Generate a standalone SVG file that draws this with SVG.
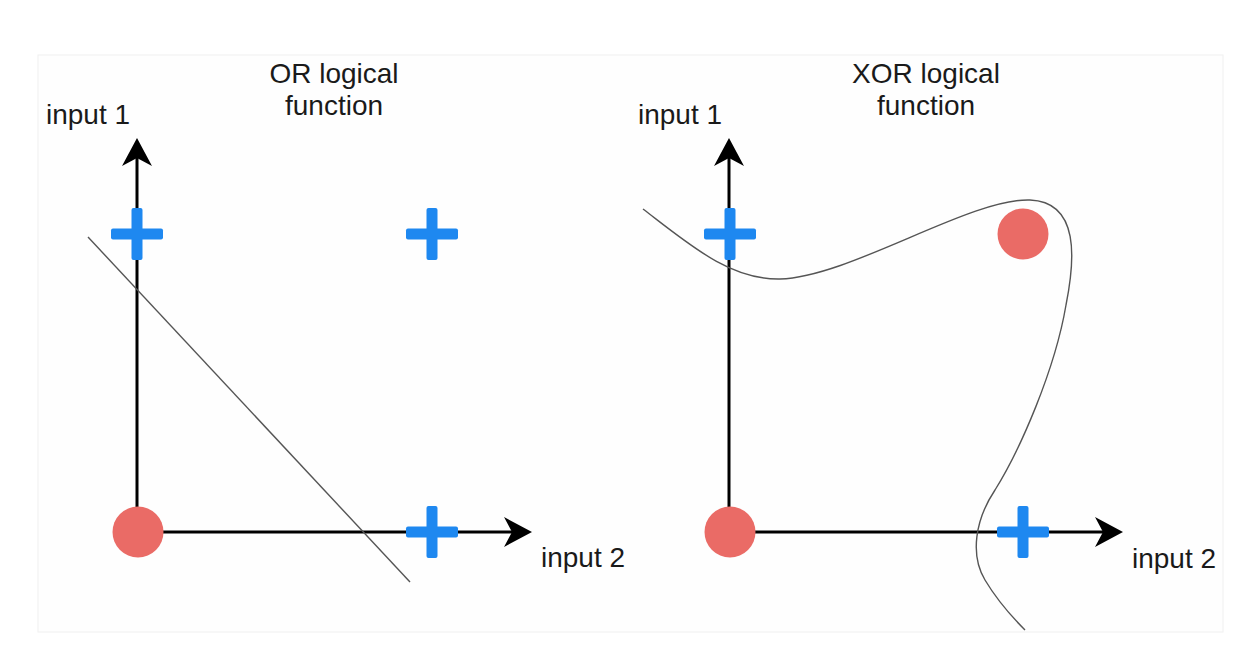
<svg xmlns="http://www.w3.org/2000/svg" width="1256" height="652" viewBox="0 0 1256 652">
  <style>
    .lbl { font-family: "Liberation Sans", Arial, Helvetica, sans-serif; font-size: 28px; fill: #1a1a1a; }
    .axis { stroke: #000; stroke-width: 3; fill: none; }
    .sep { stroke: #555; stroke-width: 1.4; fill: none; }
    .neg { fill: #EA6B66; }
    .pos { fill: #1E88F0; }
  </style>
  <defs>
    <marker id="arr" markerUnits="userSpaceOnUse" viewBox="-30 -16 32 32" refX="-20" refY="0" markerWidth="32" markerHeight="32" orient="auto">
      <path d="M0,0 L-28,-15 L-20,0 L-28,15 Z" fill="#000"/>
    </marker>
    <g id="plus">
      <rect x="-26" y="-5.5" width="52" height="11" rx="2"/>
      <rect x="-5.5" y="-26" width="11" height="52" rx="2"/>
    </g>
  </defs>
  <rect x="38" y="55" width="1185" height="577" fill="#fefefe" stroke="#f0f0f0" stroke-width="1"/>

  <g id="connectors">
    <path class="axis" d="M137,532 L137,158" marker-end="url(#arr)"/>
    <path class="axis" d="M137,532 L512,532" marker-end="url(#arr)"/>
    <path class="axis" d="M729,532 L729,158" marker-end="url(#arr)"/>
    <path class="axis" d="M729,532 L1103,532" marker-end="url(#arr)"/>
    <path class="sep" d="M88,237 L410,582"/>
    <path class="sep" d="M643,209 C690,245 730,280 780,279 C850,277 970,198 1030,200 C1080,202 1075,260 1066,305 C1055,370 1020,450 995,490 C975,520 970,555 985,580 C1000,605 1015,620 1025,630"/>
  </g>

  <g id="or-title"><text class="lbl" text-anchor="middle"><tspan x="334" y="83">OR logical</tspan><tspan x="334" y="115">function</tspan></text></g>
  <g id="xor-title"><text class="lbl" text-anchor="middle"><tspan x="926" y="83">XOR logical</tspan><tspan x="926" y="115">function</tspan></text></g>
  <g id="or-input1"><text class="lbl" x="46" y="124">input 1</text></g>
  <g id="or-input2"><text class="lbl" x="541" y="567">input 2</text></g>
  <g id="xor-input1"><text class="lbl" x="638" y="124">input 1</text></g>
  <g id="xor-input2"><text class="lbl" x="1132" y="568">input 2</text></g>

  <g id="or-p00"><circle class="neg" cx="138" cy="532" r="25.5"/></g>
  <g id="or-p01"><use href="#plus" class="pos" x="137" y="234"/></g>
  <g id="or-p11"><use href="#plus" class="pos" x="432" y="234"/></g>
  <g id="or-p10"><use href="#plus" class="pos" x="432" y="532"/></g>

  <g id="xor-p00"><circle class="neg" cx="730" cy="532" r="25.5"/></g>
  <g id="xor-p01"><use href="#plus" class="pos" x="730" y="234"/></g>
  <g id="xor-p11"><circle class="neg" cx="1023" cy="234" r="25.5"/></g>
  <g id="xor-p10"><use href="#plus" class="pos" x="1023" y="532"/></g>
</svg>
